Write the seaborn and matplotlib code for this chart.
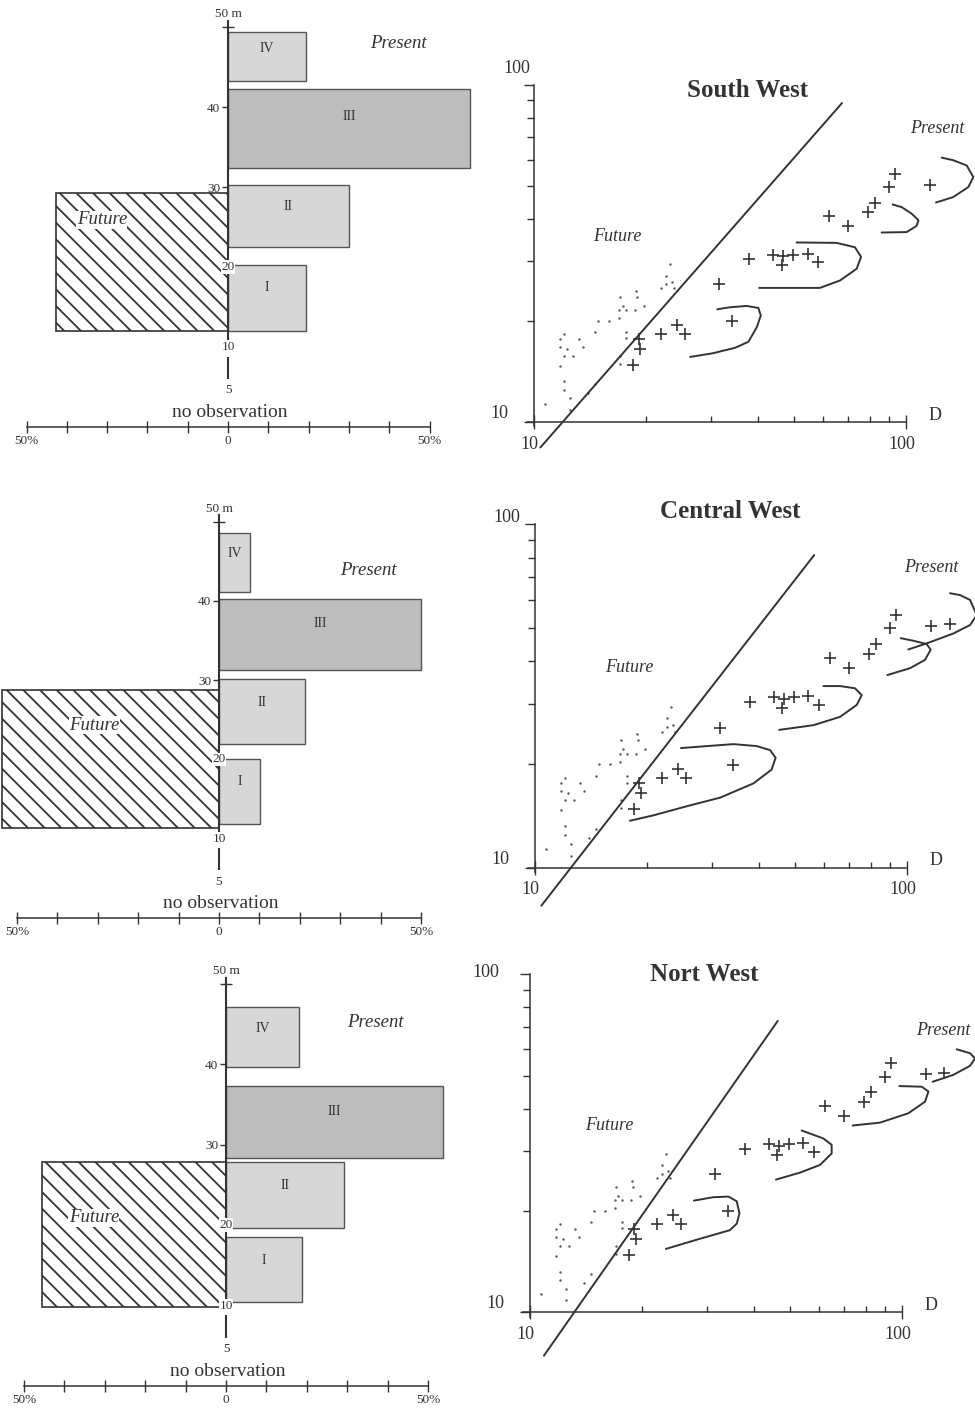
import numpy as np
import matplotlib
matplotlib.use("Agg")
import matplotlib.pyplot as plt
from matplotlib.ticker import FixedLocator, NullFormatter
import seaborn as sns

# ---------------- values ----------------
regions = ["South West", "Central West", "Nort West"]
class_labels = ["I", "II", "III", "IV"]

# left panels: depth classes (m) and share of stations (%)
sw_class_bottom = [12.0, 22.5, 32.4, 43.3]
sw_class_top = [20.3, 30.3, 42.3, 49.4]
sw_present_pct = [19.4, 30.0, 60.0, 19.4]
sw_future_pct = 42.7
sw_future_depth = [12.0, 29.3]

cw_class_bottom = [11.8, 21.9, 31.3, 41.1]
cw_class_top = [20.1, 30.1, 40.2, 48.5]
cw_present_pct = [10.2, 21.3, 50.0, 7.7]
cw_future_pct = 53.6
cw_future_depth = [11.4, 28.8]

nw_class_bottom = [10.4, 19.6, 28.4, 39.7]
nw_class_top = [18.5, 27.8, 37.3, 47.1]
nw_present_pct = [18.8, 29.2, 53.7, 18.0]
nw_future_pct = 45.5
nw_future_depth = [9.8, 27.9]

depth_ticks = [50, 40, 30]
depth_tick_labels = ["", "40", "30"]
pct_ticks = list(range(-50, 51, 10))
pct_tick_labels = ["50%", "", "", "", "", "0", "", "", "", "", "50%"]

# right panels: future (dots) and present (crosses)
future_x = [10.7, 11.75, 11.75, 11.75, 12.06, 12.06, 12.3, 12.06, 12.06, 12.5,
            12.5, 12.76, 13.24, 13.57, 14.6, 14.6, 14.0, 14.9, 15.9, 16.9,
            16.9, 17.0, 17.3, 17.7, 17.7, 17.7, 18.7, 18.8, 18.9, 19.8,
            17.0, 17.0, 22.0, 22.6, 22.6, 23.2, 23.5, 23.8]
future_y = [11.3, 17.6, 16.7, 14.7, 18.2, 15.7, 16.5, 13.2, 12.45, 11.75,
            10.85, 15.7, 17.6, 16.7, 18.5, 12.97, 12.2, 20.0, 20.0, 20.3,
            21.5, 23.5, 22.1, 21.5, 18.5, 17.7, 21.5, 24.5, 23.5, 22.1,
            15.7, 14.9, 24.9, 27.2, 25.7, 29.4, 26.1, 24.9]
present_x = [18.5, 19.3, 19.1, 21.9, 24.2, 25.5, 34.1, 31.4, 37.9, 44.0, 46.8,
             46.3, 49.8, 54.4, 58.1, 62.1, 70.0, 79.2, 82.5, 90.2, 93.4, 116]
present_y = [14.8, 16.5, 17.6, 18.3, 19.4, 18.2, 19.9, 25.6, 30.4, 31.4, 31.0,
             29.2, 31.4, 31.6, 29.8, 40.9, 38.1, 42.0, 44.7, 49.8, 54.6, 50.6]
sw_extra_x, sw_extra_y = [], []
cw_extra_x, cw_extra_y = [131], [51.1]
nw_extra_x, nw_extra_y = [130], [51.2]

sw_line_x, sw_line_y = [10.4, 67.3], [8.4, 88.4]
cw_line_x, cw_line_y = [10.4, 56.4], [7.75, 81.4]
nw_line_x, nw_line_y = [10.9, 46.4], [7.44, 72.8]

sw_hooks_x = [[26.3, 30.3, 34.7, 37.7, 39.7, 40.7, 40.1, 37.3, 33.6, 31.1],
              [40.3, 58.7, 66.5, 73.7, 75.7, 72.9, 65.1, 50.8],
              [86.0, 100.4, 106.8, 108.0, 103.6, 97.4, 92.1],
              [120.4, 134.0, 147.1, 151.7, 145.6, 134.0, 124.7]]
sw_hooks_y = [[15.6, 16.0, 16.6, 17.3, 19.1, 20.7, 21.8, 22.1, 21.9, 21.6],
              [25.0, 25.0, 26.3, 28.5, 30.9, 33.0, 34.0, 34.1],
              [36.5, 36.6, 38.2, 39.7, 41.5, 43.4, 44.2],
              [44.8, 46.5, 49.8, 53.3, 57.7, 59.8, 60.9]]
cw_hooks_x = [[18.0, 20.8, 25.6, 31.5, 38.7, 43.3, 44.4, 42.9, 39.5, 34.2, 29.0, 24.7],
              [45.4, 56.1, 66.2, 73.4, 75.7, 72.6, 66.2, 59.7],
              [88.7, 102.1, 112.0, 116.0, 113.2, 104.2, 96.4],
              [101.0, 113.2, 133.6, 148.1, 154.3, 148.1, 139.2, 130.8]]
cw_hooks_y = [[13.7, 14.2, 15.1, 16.0, 17.6, 19.3, 20.9, 22.0, 22.6, 22.9, 22.6, 22.3],
              [25.2, 26.0, 27.5, 29.8, 31.8, 33.3, 33.8, 33.8],
              [36.4, 38.1, 40.3, 43.1, 44.8, 45.8, 46.6],
              [43.2, 45.0, 48.1, 50.9, 54.4, 60.2, 62.2, 63.0]]
nw_hooks_x = [[23.2, 28.1, 34.5, 36.0, 36.6, 36.0, 34.2, 31.1, 27.6],
              [45.9, 53.3, 60.3, 64.8, 64.8, 61.5, 53.8],
              [73.8, 87.4, 104.2, 115.6, 118.0, 113.2, 98.6],
              [121.2, 137.7, 152.7, 157.5, 152.7, 140.6]]
nw_hooks_y = [[15.4, 16.4, 17.5, 18.3, 19.6, 21.3, 22.0, 21.9, 21.4],
              [24.7, 25.9, 27.3, 29.5, 31.3, 32.7, 34.5],
              [35.7, 36.4, 38.8, 42.0, 45.0, 46.5, 46.7],
              [48.1, 50.4, 53.6, 56.4, 58.4, 60.0]]

# ---------------- style ----------------
INK = "#333333"
sns.set_theme(style="white")
plt.rcParams["font.family"] = ["Liberation Serif", "DejaVu Serif"]
plt.rcParams.update({
    "text.color": INK, "axes.edgecolor": INK, "xtick.color": INK,
    "ytick.color": INK, "axes.linewidth": 1.1, "hatch.linewidth": 1.3,
    "hatch.color": INK,
})

W, H = 975, 1412
fig = plt.figure(figsize=(W / 100, H / 100), dpi=100)


def left_panel(anchor, bottoms, tops, present, fut_pct, fut_depth,
               present_xy, future_xy):
    # anchor: pixel of 0 %, px per %, pixel of depth 0, px per m
    x0, sx, y0, sy = anchor
    xlim, ylim = (-56, 62), (0, 53)
    left = x0 + sx * xlim[0]
    right = x0 + sx * xlim[1]
    top = y0 - sy * ylim[1]
    ax = fig.add_axes([left / W, 1 - y0 / H, (right - left) / W, (y0 - top) / H])
    ax.set_xlim(xlim)
    ax.set_ylim(ylim)
    ax.patch.set_alpha(0)

    centers = [(b + t) / 2 for b, t in zip(bottoms, tops)]
    heights = [t - b for b, t in zip(bottoms, tops)]
    fills = ["#d7d7d7", "#d7d7d7", "#bdbdbd", "#d7d7d7"]
    ax.barh(centers, present, height=heights, left=0, color=fills,
            edgecolor="#555555", linewidth=1.0, zorder=2)
    ax.barh((fut_depth[0] + fut_depth[1]) / 2, -fut_pct,
            height=fut_depth[1] - fut_depth[0], left=0, facecolor="white",
            edgecolor=INK, hatch="\\\\", linewidth=1.2, zorder=2)

    for lab, b, t, w in zip(class_labels, bottoms, tops, present):
        ax.text(w / 2, t - 0.35 * (t - b), lab, ha="center", va="center",
                fontsize=10, zorder=4)

    for s in ["top", "right"]:
        ax.spines[s].set_visible(False)
    ax.spines["left"].set_position(("data", 0))
    ax.spines["left"].set_bounds(10, 50.8)
    ax.spines["left"].set_linewidth(1.5)
    ax.spines["bottom"].set_bounds(-50, 50)
    ax.vlines(0, 6.0, 8.8, color=INK, linewidth=1.5)

    ax.set_yticks(depth_ticks)
    ax.set_yticklabels(depth_tick_labels)
    ax.tick_params(axis="y", left=True, direction="inout", length=9, width=1,
                   labelsize=9.5, pad=1)
    ax.set_xticks(pct_ticks)
    ax.set_xticklabels(pct_tick_labels)
    ax.tick_params(axis="x", bottom=True, direction="inout", length=9, width=1,
                   labelsize=9.5, pad=1)

    white = dict(facecolor="white", edgecolor="none", pad=0.6)
    ax.text(0, 51.6, "50 m", ha="center", va="center", fontsize=9.5)
    ax.text(0, 20, "20", ha="center", va="center", fontsize=9.5, bbox=white, zorder=5)
    ax.text(0, 10, "10", ha="center", va="center", fontsize=9.5, bbox=white, zorder=5)
    ax.text(0, 4.6, "5", ha="center", va="center", fontsize=9.5)
    ax.text(0.5, 1.8, "no observation", ha="center", va="center", fontsize=14)
    ax.text(*present_xy, "Present", style="italic", ha="center", va="center",
            fontsize=13.5)
    ax.text(*future_xy, "Future", style="italic", ha="center", va="center",
            fontsize=13.5, bbox=dict(facecolor="white", edgecolor="none", pad=0.3),
            zorder=5)
    return ax


def right_panel(anchor, title, title_xy, present_xy, future_xy, line_x, line_y,
                hooks_x, hooks_y, extra_x, extra_y, y100_off):
    # anchor: pixel of x=10, px per decade, pixel of y=10, px per decade
    x0, sx, y0, sy = anchor
    xlim, ylim = (9.3, 158), (7.0, 115)
    left = x0 + sx * np.log10(xlim[0] / 10)
    right = x0 + sx * np.log10(xlim[1] / 10)
    bottom = y0 - sy * np.log10(ylim[0] / 10)
    top = y0 - sy * np.log10(ylim[1] / 10)
    ax = fig.add_axes([left / W, 1 - bottom / H, (right - left) / W, (bottom - top) / H])
    ax.set_xscale("log")
    ax.set_yscale("log")
    ax.patch.set_alpha(0)

    sns.lineplot(x=line_x, y=line_y, sort=False, estimator=None, color=INK,
                 linewidth=1.4, ax=ax)
    for hx, hy in zip(hooks_x, hooks_y):
        sns.lineplot(x=hx, y=hy, sort=False, estimator=None, color=INK,
                     linewidth=1.4, ax=ax)
    sns.scatterplot(x=future_x, y=future_y, marker="o", s=3, color="#555555",
                    linewidth=0, ax=ax)
    sns.scatterplot(x=present_x + extra_x, y=present_y + extra_y, marker="+",
                    s=70, color=INK, linewidth=1.2, ax=ax)
    ax.set_xlim(xlim)
    ax.set_ylim(ylim)

    for s in ["top", "right"]:
        ax.spines[s].set_visible(False)
    ax.spines["left"].set_position(("data", 10))
    ax.spines["bottom"].set_position(("data", 10))
    ax.spines["left"].set_bounds(9.7, 100)
    ax.spines["bottom"].set_bounds(9.55, 100)
    for axis in (ax.xaxis, ax.yaxis):
        axis.set_major_locator(FixedLocator([10, 100]))
        axis.set_minor_locator(FixedLocator(list(range(20, 100, 10))))
        axis.set_major_formatter(NullFormatter())
        axis.set_minor_formatter(NullFormatter())
    ax.tick_params(which="both", bottom=True, left=True)
    ax.tick_params(axis="x", which="major", direction="inout", length=10, width=1)
    ax.tick_params(axis="x", which="minor", direction="in", length=4, width=1)
    ax.tick_params(axis="y", which="major", direction="out", length=7, width=1)
    ax.tick_params(axis="y", which="minor", direction="out", length=5, width=1)

    lab = dict(textcoords="offset points", ha="center", va="center", fontsize=13)
    ax.annotate("100", xy=(10, 100), xytext=y100_off, **lab)
    ax.annotate("10", xy=(10, 10), xytext=(-25, 6), **lab)
    ax.annotate("10", xy=(10, 10), xytext=(-3, -16), **lab)
    ax.annotate("100", xy=(100, 10), xytext=(-3, -16), **lab)
    ax.annotate("D", xy=(100, 10), xytext=(21, 5), **lab)

    ax.text(*title_xy, title, ha="center", va="center", fontsize=18,
            fontweight="bold")
    ax.text(*present_xy, "Present", style="italic", ha="center", va="center",
            fontsize=13)
    ax.text(*future_xy, "Future", style="italic", ha="center", va="center",
            fontsize=13)
    return ax


# ---------------- left column ----------------
left_panel((228, 4.03, 427, 8.0), sw_class_bottom, sw_class_top, sw_present_pct,
           sw_future_pct, sw_future_depth, (42.4, 47.9), (-31.3, 25.9))
left_panel((219, 4.04, 918, 7.93), cw_class_bottom, cw_class_top, cw_present_pct,
           cw_future_pct, cw_future_depth, (36.9, 43.8), (-30.9, 24.3))
left_panel((226, 4.04, 1386, 8.04), nw_class_bottom, nw_class_top, nw_present_pct,
           nw_future_pct, nw_future_depth, (37.1, 45.2), (-32.7, 20.9))

# ---------------- right column ----------------
right_panel((534, 372, 422, 337), regions[0], (37.4, 96), (121, 74.5), (16.7, 35.6),
            sw_line_x, sw_line_y, sw_hooks_x, sw_hooks_y, sw_extra_x, sw_extra_y,
            (-12, 12))
right_panel((535, 371.7, 867.7, 343.4), regions[1], (33.5, 108.8), (116.7, 74.7),
            (17.9, 38.2), cw_line_x, cw_line_y, cw_hooks_x, cw_hooks_y,
            cw_extra_x, cw_extra_y, (-20, 5))
right_panel((530, 371.7, 1312.3, 338), regions[2], (29.4, 100.2), (129.4, 68.1),
            (16.3, 35.8), nw_line_x, nw_line_y, nw_hooks_x, nw_hooks_y,
            nw_extra_x, nw_extra_y, (-32, 1))

fig.savefig("out.png", dpi=100)
